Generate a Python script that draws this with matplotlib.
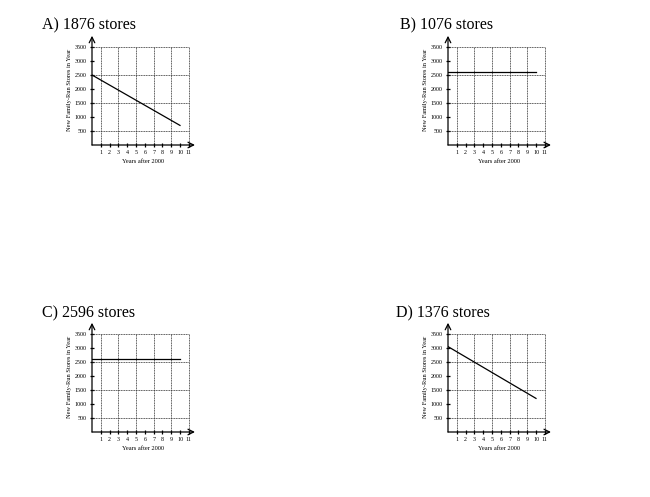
import matplotlib.pyplot as plt

# answer choices
titles = ['A) 1876 stores', 'B) 1076 stores', 'C) 2596 stores', 'D) 1376 stores']
line_x = [0, 10]
line_y = [
    [2500, 700],
    [2600, 2600],
    [2600, 2600],
    [3050, 1200],
]
x_ticks = list(range(1, 12))
y_ticks = [500, 1000, 1500, 2000, 2500, 3000, 3500]
x_grid = [1, 3, 5, 7, 9, 11]
y_grid = [500, 1500, 2500, 3500]

W, H = 650, 497
# (y-axis pixel x, x-axis pixel y, title pixel x, title pixel y)
spots = [(92, 145, 42, 25), (448, 145, 400, 25), (92, 432, 42, 313), (448, 432, 396, 313)]
px_x = 8.8     # pixels per year
px_y = 0.028   # pixels per store
xmax, ymax = 11.7, 3900

plt.rcParams['font.family'] = ['Liberation Serif', 'DejaVu Serif']
fig = plt.figure(figsize=(W / 100, H / 100), dpi=100)

for i in range(4):
    x0, y0, tx, ty = spots[i]
    wpx, hpx = xmax * px_x, ymax * px_y
    ax = fig.add_axes([x0 / W, (H - y0) / H, wpx / W, hpx / H])
    ax.set_xlim(0, xmax)
    ax.set_ylim(0, ymax)
    for s in ax.spines.values():
        s.set_visible(False)

    # dotted grid
    for gx in x_grid:
        ax.plot([gx, gx], [0, 3500], color='#333333', lw=0.6, ls=(0, (1.2, 0.8)))
    for gy in y_grid:
        ax.plot([0, 11], [gy, gy], color='#333333', lw=0.6, ls=(0, (1.2, 0.8)))

    # axes with arrows
    ax.annotate('', xy=(xmax, 0), xytext=(0, 0),
                arrowprops=dict(arrowstyle='->', lw=0.9, color='black',
                                shrinkA=0, shrinkB=0), annotation_clip=False)
    ax.annotate('', xy=(0, ymax), xytext=(0, 0),
                arrowprops=dict(arrowstyle='->', lw=0.9, color='black',
                                shrinkA=0, shrinkB=0), annotation_clip=False)

    ax.plot(line_x, line_y[i], color='black', lw=0.9)

    ax.set_xticks(x_ticks)
    ax.set_yticks(y_ticks)
    ax.tick_params(direction='inout', length=3.5, width=0.9, labelsize=4.3, pad=2)
    ax.set_xlabel('Years after 2000', fontsize=4.6, labelpad=2.5)
    ax.set_ylabel('New Family-Run Stores in Year', fontsize=4.6, labelpad=2)

    fig.text(tx / W, 1 - ty / H, titles[i], fontsize=11.5, va='center', ha='left')

fig.savefig('out.png', dpi=100)
